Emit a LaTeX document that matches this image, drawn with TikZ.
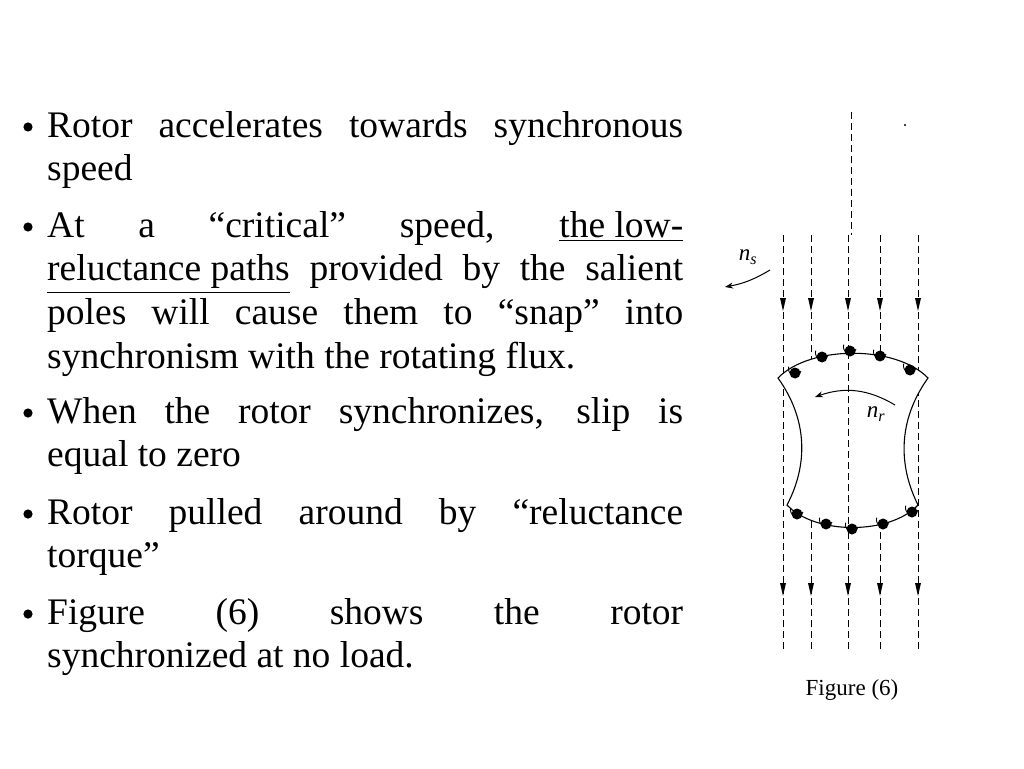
\documentclass[tikz,border=0pt]{standalone}
\usepackage{fontspec}
\setmainfont{Liberation Serif}
\usepackage{amsmath}
\usetikzlibrary{arrows.meta}

\tikzset{
    flux/.style={dashed, dash pattern=on 7pt off 4pt, line width=1pt},
    bullettext/.style={anchor=base west, text width=636pt, align=justify, inner sep=0pt, font=\fontsize{37.5}{43.8}\selectfont},
    slot/.style={fill=black},
    speedlabel/.style={font=\fontsize{23}{23}\selectfont\itshape, inner sep=1pt},
}

\begin{document}
\begin{tikzpicture}[x=1pt, y=-1pt]
    \useasboundingbox (0,0) rectangle (1024,768);

    % bullets
    \foreach \yb in {127,227,413,514,614}
        \fill (28,\yb) circle (4.6);
    \node[bullettext] (b1) at (47,137) {Rotor accelerates towards synchronous\linebreak speed};
    \node[bullettext] (b2) at (47,237) {At a ``critical'' speed, \underline{the low-}\linebreak \underline{reluctance paths} provided by the salient\linebreak poles will cause them to ``snap'' into\linebreak synchronism with the rotating flux.};
    \node[bullettext] (b3) at (47,423) {When the rotor synchronizes, slip is\linebreak equal to zero};
    \node[bullettext] (b4) at (47,524) {Rotor pulled around by ``reluctance\linebreak torque''};
    \node[bullettext] (b5) at (47,624) {Figure (6) shows the rotor\linebreak synchronized at no load.};

    % flux lines
    \foreach \xf in {783,811,848,880,918} {
        \draw[flux] (\xf,235) -- (\xf,650);
        \fill (\xf-3,298) -- (\xf+3,298) -- (\xf,311) -- cycle;
        \fill (\xf-3,583) -- (\xf+3,583) -- (\xf,596) -- cycle;
    }
    \draw[flux] (851,112) -- (851,235);
    \fill (905,125) circle (1.2);

    % rotor
    \draw[line width=1.1pt, fill=white] (778,378) .. controls (810,345) and (896,345) .. (928,378)
        .. controls (898,420) and (898,465) .. (918,505)
        .. controls (890,535) and (815,535) .. (787,505)
        .. controls (808,465) and (808,420) .. (778,378) -- cycle;
    \draw[flux] (848,352) -- (848,530);

    % slots
    \foreach \xs/\ys in {795/373,822/357,850/351,880/356,910/370,
                         797/514,826/524,852/529,883/524,912/512} {
        \fill[slot] (\xs,\ys) circle (5.5);
        \draw[line width=0.9pt] (\xs+6,\ys-2) arc (20:200:6.5);
    }

    % n_s
    \draw[-{Stealth[length=8pt]}, line width=1pt] (770,270) to[bend left=10] (725,287);
    \node[speedlabel] (ns) at (748,257) {n\textsubscript{s}};

    % n_r
    \draw[-{Stealth[length=8pt]}, line width=1pt] (895,405) to[bend right=25] (815,397);
    \node[speedlabel] (nr) at (876,414) {n\textsubscript{r}};

    % caption
    \node (cap) at (852,690) {\fontsize{23}{23}\selectfont Figure (6)};
\end{tikzpicture}
\end{document}
